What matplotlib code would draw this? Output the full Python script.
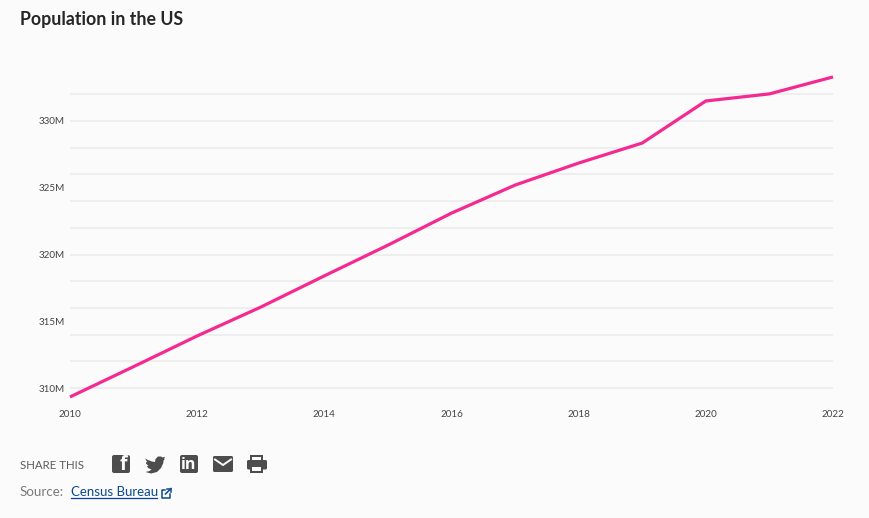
import matplotlib
matplotlib.use("Agg")
import matplotlib.pyplot as plt
from matplotlib.patches import FancyBboxPatch, Polygon, Rectangle

years = [2010, 2011, 2012, 2013, 2014, 2015, 2016, 2017, 2018, 2019, 2020, 2021, 2022]
population_m = [309.33, 311.6, 313.9, 316.06, 318.4, 320.7, 323.1, 325.2, 326.85, 328.35, 331.5, 332.03, 333.3]
x_ticks = [2010, 2012, 2014, 2016, 2018, 2020, 2022]
y_ticks = [310, 315, 320, 325, 330]
y_labels = ["310M", "315M", "320M", "325M", "330M"]
grid_values = [310, 312, 314, 316, 318, 320, 322, 324, 326, 328, 330, 332]
title = "Population in the US"

W, H = 870, 518
BG = "#fbfbfb"
plt.rcParams["font.family"] = ["Lato", "Open Sans", "DejaVu Sans"]
fig = plt.figure(figsize=(W / 100, H / 100), dpi=100, facecolor=BG)

# main plot
L, R, T, B = 70, 833, 60, 400
ax = fig.add_axes([L / W, 1 - B / H, (R - L) / W, (B - T) / H], facecolor="none")
PX = 13.35
ax.set_xlim(2010, 2022)
ax.set_ylim(310 - (B - 388) / PX, 310 + (388 - T) / PX)
ax.set_xticks(x_ticks)
ax.set_yticks(y_ticks)
ax.set_yticklabels(y_labels)
ax.set_yticks(grid_values, minor=True)
ax.yaxis.remove_overlapping_locs = False
ax.grid(True, axis="y", which="minor", color="#ebebeb", linewidth=1.1)
ax.grid(False, axis="x")
ax.set_axisbelow(True)
for s in ax.spines.values():
    s.set_visible(False)
ax.tick_params(axis="both", which="both", length=0, labelsize=7.1, labelcolor="#444444")
ax.tick_params(axis="y", pad=4)
ax.tick_params(axis="x", pad=7)
ax.plot(years, population_m, color="#f42a92", linewidth=2.3, solid_capstyle="butt",
        solid_joinstyle="miter", clip_on=False)

# overlay in pixel coordinates for text and icons
ov = fig.add_axes([0, 0, 1, 1], facecolor="none")
ov.set_xlim(0, W)
ov.set_ylim(H, 0)
ov.axis("off")

ov.text(20, 19, title, fontsize=12.8, fontweight="bold", color="#262626", va="center", ha="left")
ov.text(20, 465.5, "SHARE THIS", fontsize=8.3, color="#5c5c5c", va="center", ha="left")
ov.text(20, 492, "Source:", fontsize=9.6, color="#7a7a7a", va="center", ha="left")
ov.text(71, 491.5, "Census Bureau", fontsize=9.5, color="#0b4a8c", va="center", ha="left")
ov.plot([71, 157.5], [497.5, 497.5], color="#0b3fa0", lw=0.9)

ICON = "#4d4d4d"
def rbox(x, y, w, h, r=2, c=ICON):
    ov.add_patch(FancyBboxPatch((x + r, y + r), w - 2 * r, h - 2 * r,
                                boxstyle=f"round,pad={r},rounding_size={r}",
                                fc=c, ec="none"))

# facebook
rbox(112, 455, 18, 18)
ov.text(123, 465, "f", fontsize=14, fontweight="bold", color=BG, ha="center", va="center",
        family=["Open Sans"])
# twitter
bird = [(145, 458.5), (148, 460), (152, 461.5), (155, 462), (155.5, 459), (158, 456.5), (161, 456.5),
        (162.5, 457.5), (165, 456.8), (164, 459), (165, 458.8), (163.5, 460.5), (163.3, 463),
        (161, 468), (157, 472), (151, 473.5), (145.5, 472), (149.5, 471), (151.5, 469.5),
        (148, 468), (147, 466), (148.5, 466), (146, 463.5), (146, 462), (147.5, 462.5)]
ov.add_patch(Polygon(bird, closed=True, fc=ICON, ec="none"))
# linkedin
rbox(180, 455, 18, 18)
ov.text(189, 465.3, "in", fontsize=11.5, fontweight="bold", color=BG, ha="center", va="center",
        family=["Open Sans"])
# mail
rbox(213, 456, 20, 16, r=1.5)
ov.plot([215, 223, 231], [459.5, 465, 459.5], color=BG, lw=1.4, solid_joinstyle="miter")
# printer
ov.add_patch(Rectangle((250.5, 455), 13, 5, fc=ICON, ec="none"))
ov.add_patch(Rectangle((252.5, 456.7), 9, 3.3, fc=BG, ec="none"))
rbox(247, 460, 20, 9.5, r=1.5)
ov.add_patch(Rectangle((250.5, 465), 13, 8, fc=ICON, ec="none"))
ov.add_patch(Rectangle((252.5, 467), 9, 4, fc=BG, ec="none"))
# external-link icon
LINK = "#0b4a8c"
ov.plot([165, 162, 162, 170, 170], [489.5, 489.5, 497.5, 497.5, 493.5], color=LINK, lw=1.1)
ov.plot([165.5, 171], [494, 488.5], color=LINK, lw=1.1)
ov.plot([167.5, 171, 171], [488.5, 488.5, 492], color=LINK, lw=1.1)

fig.savefig("out.png", dpi=100, facecolor=BG)
